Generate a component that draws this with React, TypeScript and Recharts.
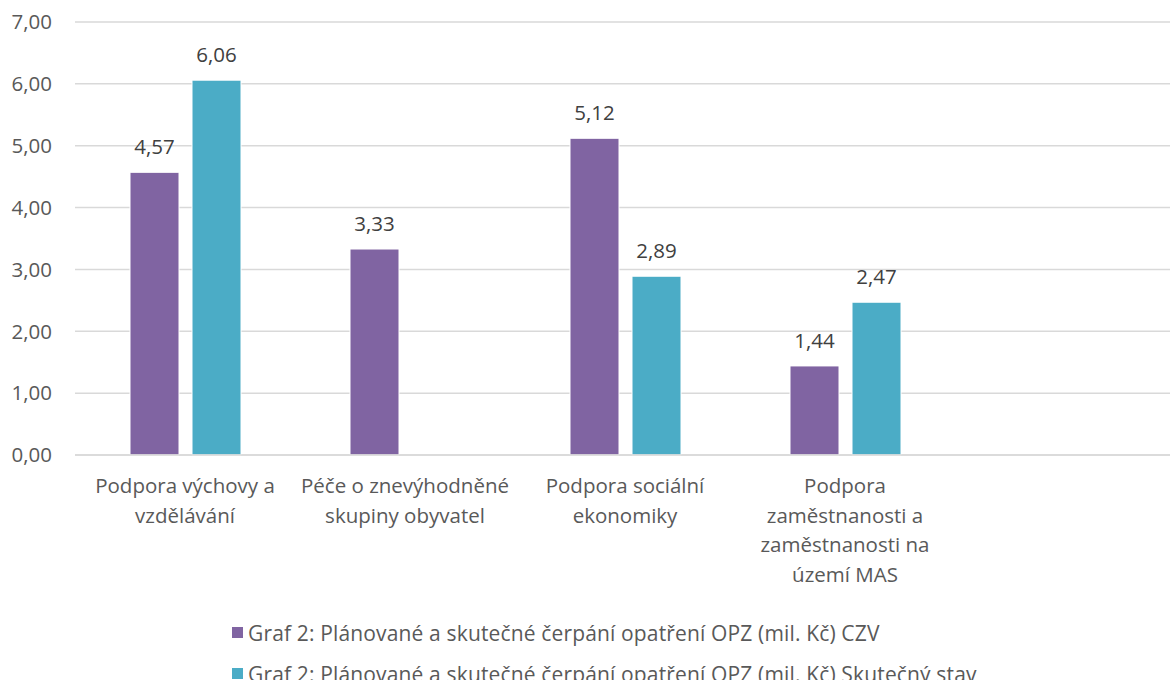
import { Bar, BarChart, CartesianGrid, LabelList, XAxis, YAxis } from 'recharts';

const categories = [
  'Podpora výchovy a\nvzdělávání',
  'Péče o znevýhodněné\nskupiny obyvatel',
  'Podpora sociální\nekonomiky',
  'Podpora\nzaměstnanosti a\nzaměstnanosti na\núzemí MAS',
  '',
];
const planned = [4.57, 3.33, 5.12, 1.44, null];
const actual = [6.06, 0.0, 2.89, 2.47, null];
const seriesNames = [
  'Graf 2: Plánované a skutečné čerpání opatření OPZ (mil. Kč) CZV',
  'Graf 2: Plánované a skutečné čerpání opatření OPZ (mil. Kč) Skutečný stav',
];
const yTicks = [0, 1, 2, 3, 4, 5, 6, 7];

const colors = ['#8064A2', '#4BACC6'];
const textColor = '#595959';
const font = "'Open Sans', sans-serif";
const fs = 20.5;

const data = categories.map((name, i) => ({ name, planned: planned[i], actual: actual[i] }));

const fmt = (v: any) => (v == null ? '' : Number(v).toFixed(2).replace('.', ','));

const CategoryTick = ({ x, y, payload }: any) => {
  const lines = String(payload.value).split('\n');
  return (
    <text x={x} y={y} textAnchor="middle" fill={textColor} fontSize={fs} fontFamily={font}>
      {lines.map((line, i) => (
        <tspan key={i} x={x} y={y + 38 + i * 29.5}>
          {line}
        </tspan>
      ))}
    </text>
  );
};

export default function App() {
  return (
    <div
      style={{
        position: 'absolute',
        left: 0,
        top: 0,
        width: 1170,
        height: 680,
        overflow: 'hidden',
        background: '#fff',
        fontFamily: font,
      }}
    >
      <BarChart
        width={1176}
        height={680}
        data={data}
        margin={{ top: 22, right: 1, left: 0, bottom: 0 }}
        barSize={49}
        barGap={13}
      >
        <CartesianGrid vertical={false} stroke="#D9D9D9" strokeWidth={1.5} />
        <XAxis
          dataKey="name"
          height={225}
          axisLine={{ stroke: '#D9D9D9', strokeWidth: 1.5 }}
          tickLine={false}
          tickSize={0}
          tickMargin={0}
          interval={0}
          tick={<CategoryTick />}
        />
        <YAxis
          width={75}
          domain={[0, 7]}
          ticks={yTicks}
          axisLine={false}
          tickLine={false}
          tickSize={0}
          tickMargin={23}
          tickFormatter={fmt}
          tick={{ fill: textColor, fontSize: fs, fontFamily: font }}
        />
        <Bar dataKey="planned" fill={colors[0]} stroke="#fff" strokeWidth={1} isAnimationActive={false}>
          <LabelList dataKey="planned" position="top" offset={18} formatter={fmt} fill="#404040" fontSize={fs} fontFamily={font} />
        </Bar>
        <Bar dataKey="actual" fill={colors[1]} stroke="#fff" strokeWidth={1} isAnimationActive={false}>
          <LabelList dataKey="actual" position="top" offset={18} formatter={fmt} fill="#404040" fontSize={fs} fontFamily={font} />
        </Bar>
      </BarChart>
      <div style={{ position: 'absolute', left: 232, top: 612, color: textColor, fontSize: 21, letterSpacing: 0.15 }}>
        {seriesNames.map((n, i) => (
          <div key={n} style={{ display: 'flex', alignItems: 'center', height: 41, whiteSpace: 'nowrap' }}>
            <span style={{ display: 'inline-block', width: 11, height: 11, background: colors[i], marginRight: 5 }} />
            {n}
          </div>
        ))}
      </div>
    </div>
  );
}
